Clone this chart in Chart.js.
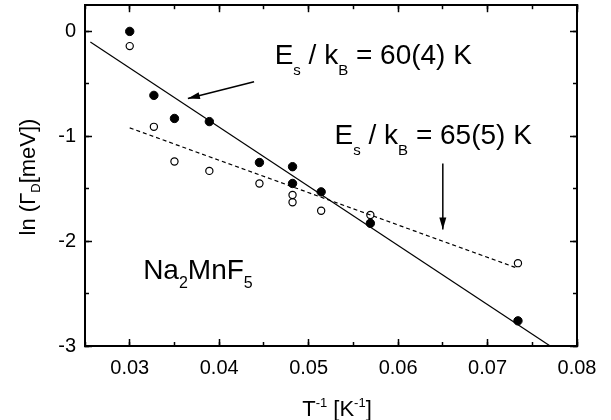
<!DOCTYPE html>
<html>
<head>
<meta charset="utf-8">
<script src="https://cdn.jsdelivr.net/npm/chart.js@4.4.1/dist/chart.umd.min.js"></script>
<style>
    html, body { margin: 0; padding: 0; background: #fff; }
    #wrap { width: 611px; height: 420px; }
</style>
</head>
<body>
<div id="wrap"><canvas id="chart" width="611" height="420"></canvas></div>
<script>
// ln(Gamma_D) vs 1/T, Na2MnF5

// filled circles
const filledX = [0.0300, 0.0327, 0.0350, 0.0389, 0.0445, 0.0482, 0.0482, 0.0514, 0.0569, 0.0734];
const filledY = [0.00, -0.61, -0.83, -0.86, -1.25, -1.29, -1.45, -1.53, -1.83, -2.76];

// open circles
const openX = [0.0300, 0.0327, 0.0350, 0.0389, 0.0445, 0.0482, 0.0482, 0.0514, 0.0569, 0.0734];
const openY = [-0.14, -0.91, -1.24, -1.33, -1.45, -1.56, -1.63, -1.71, -1.75, -2.21];

// fit lines
const solidFitX = [0.0256, 0.0770];
const solidFitY = [-0.10, -3.00];
const dashFitX = [0.0300, 0.0734];
const dashFitY = [-0.92, -2.26];

// arrows (tail -> head)
const arrow1X = [0.0439, 0.0365];
const arrow1Y = [-0.48, -0.64];
const arrow2X = [0.0650, 0.0650];
const arrow2Y = [-1.26, -1.89];

// axes
const xMin = 0.025, xMax = 0.08, xStep = 0.01, xMinorStep = 0.005;
const yMin = -3, yMax = 0.25, yStep = 1, yMinorStep = 0.5;

const FONT = '"Liberation Sans", Arial, Helvetica, sans-serif';

const pts = (xs, ys) => xs.map((x, i) => ({ x, y: ys[i] }));

// text with sub/superscripts
function richText(ctx, parts, x, y, size, smallSize, drop, rise) {
    let cx = x;
    parts.forEach((p) => {
        const s = p.sub || p.sup ? smallSize : size;
        ctx.font = s + 'px ' + FONT;
        const dy = p.sub ? drop : p.sup ? -rise : 0;
        ctx.fillText(p.t, cx, y + dy);
        cx += ctx.measureText(p.t).width;
    });
    return cx - x;
}
function richWidth(ctx, parts, size, smallSize) {
    let w = 0;
    parts.forEach((p) => {
        ctx.font = (p.sub || p.sup ? smallSize : size) + 'px ' + FONT;
        w += ctx.measureText(p.t).width;
    });
    return w;
}

const labelsPlugin = {
    id: 'labels',
    afterDatasetsDraw(chart) {
        const ctx = chart.ctx;
        const sx = chart.scales.x, sy = chart.scales.y;

        // arrowheads
        chart.data.datasets.forEach((ds, i) => {
            if (!ds.arrow) return;
            const d = chart.getDatasetMeta(i).data;
            const a = d[0], b = d[1];
            const ang = Math.atan2(b.y - a.y, b.x - a.x);
            const len = 12, hw = 3.5;
            ctx.save();
            ctx.fillStyle = '#000';
            ctx.beginPath();
            ctx.moveTo(b.x, b.y);
            ctx.lineTo(b.x - len * Math.cos(ang) - hw * Math.sin(ang), b.y - len * Math.sin(ang) + hw * Math.cos(ang));
            ctx.lineTo(b.x - len * Math.cos(ang) + hw * Math.sin(ang), b.y - len * Math.sin(ang) - hw * Math.cos(ang));
            ctx.closePath();
            ctx.fill();
            ctx.restore();
        });

        ctx.save();
        ctx.fillStyle = '#000';
        ctx.textBaseline = 'alphabetic';
        ctx.textAlign = 'left';

        richText(ctx, [{ t: 'E' }, { t: 's', sub: true }, { t: ' / k' }, { t: 'B', sub: true }, { t: ' = 60(4) K' }],
            sx.getPixelForValue(0.0462), sy.getPixelForValue(-0.315), 28, 15, 11, 0);
        richText(ctx, [{ t: 'E' }, { t: 's', sub: true }, { t: ' / k' }, { t: 'B', sub: true }, { t: ' = 65(5) K' }],
            sx.getPixelForValue(0.0529), sy.getPixelForValue(-1.07), 28, 15, 11, 0);
        richText(ctx, [{ t: 'Na' }, { t: '2', sub: true }, { t: 'Mn' }, { t: 'F' }, { t: '5', sub: true }],
            sx.getPixelForValue(0.0315), sy.getPixelForValue(-2.36), 28, 16, 9, 0);

        // axis titles
        const xt = [{ t: 'T' }, { t: '-1', sup: true }, { t: ' [K' }, { t: '-1', sup: true }, { t: ']' }];
        const xw = richWidth(ctx, xt, 22, 13);
        richText(ctx, xt, (chart.chartArea.left + chart.chartArea.right) / 2 - xw / 2 + 6, 416, 22, 13, 0, 9);

        const yt = [{ t: 'ln (Γ' }, { t: 'D', sub: true }, { t: '[meV])' }];
        const yw = richWidth(ctx, yt, 22, 13);
        ctx.translate(35, 177);
        ctx.rotate(-Math.PI / 2);
        richText(ctx, yt, -yw / 2, 0, 22, 13, 5, 0);
        ctx.restore();
    },
};

// axis helper: ticks pointing into the plot
function tickAxis(position, min, max, step, len, opts) {
    const major = opts.major;
    const size = opts.size;
    return {
        type: 'linear',
        position,
        min,
        max,
        weight: major ? 1 : 0,
        afterFit: (s) => {
            if (position === 'left' || position === 'right') s.width = size;
            else s.height = size;
            // no extra room for overhanging labels
            s.paddingTop = 0;
            s.paddingBottom = 0;
            s.paddingLeft = 0;
            s.paddingRight = 0;
        },
        ticks: Object.assign({
            display: false,
            stepSize: step,
            includeBounds: false,
            autoSkip: false,
            maxRotation: 0,
            color: '#000',
            font: { family: FONT, size: 20 },
        }, opts.ticks || {}),
        grid: {
            drawOnChartArea: false,
            drawTicks: true,
            tickLength: -len,
            tickWidth: 1.5,
            tickColor: '#000',
        },
        border: { display: major, color: '#000', width: 2 },
    };
}

new Chart(document.getElementById('chart'), {
    type: 'scatter',
    data: {
        datasets: [
            {
                data: pts(solidFitX, solidFitY),
                showLine: true,
                borderColor: '#000',
                borderWidth: 1.2,
                pointRadius: 0,
            },
            {
                data: pts(dashFitX, dashFitY),
                showLine: true,
                borderColor: '#000',
                borderWidth: 1.2,
                borderDash: [4, 3],
                pointRadius: 0,
            },
            {
                data: pts(arrow1X, arrow1Y),
                showLine: true,
                arrow: true,
                borderColor: '#000',
                borderWidth: 1.5,
                pointRadius: 0,
            },
            {
                data: pts(arrow2X, arrow2Y),
                showLine: true,
                arrow: true,
                borderColor: '#000',
                borderWidth: 1.5,
                pointRadius: 0,
            },
            {
                data: pts(openX, openY),
                pointRadius: 3.6,
                pointBorderWidth: 1.2,
                pointBorderColor: '#000',
                pointBackgroundColor: 'rgba(255,255,255,0)',
            },
            {
                data: pts(filledX, filledY),
                pointRadius: 4.2,
                pointBorderWidth: 1,
                pointBorderColor: '#000',
                pointBackgroundColor: '#000',
            },
        ],
    },
    options: {
        responsive: false,
        devicePixelRatio: 1,
        animation: false,
        layout: { padding: { top: 5, right: 34, left: 0, bottom: 0 } },
        plugins: { legend: { display: false }, tooltip: { enabled: false } },
        scales: {
            x: tickAxis('bottom', xMin, xMax, xStep, 7, {
                major: true, size: 74,
                ticks: { display: true, padding: 17, callback: (v) => v.toFixed(2) },
            }),
            xMinor: tickAxis('bottom', xMin, xMax, xMinorStep, 4, { major: false, size: 0 }),
            xTop: tickAxis('top', xMin, xMax, xStep, 7, { major: true, size: 0 }),
            xTopMinor: tickAxis('top', xMin, xMax, xMinorStep, 4, { major: false, size: 0 }),
            y: tickAxis('left', yMin, yMax, yStep, 7, {
                major: true, size: 85,
                ticks: { display: true, padding: 16, callback: (v) => String(v) },
            }),
            yMinor: tickAxis('left', yMin, yMax, yMinorStep, 4, { major: false, size: 0 }),
            yRight: tickAxis('right', yMin, yMax, yStep, 7, { major: true, size: 0 }),
            yRightMinor: tickAxis('right', yMin, yMax, yMinorStep, 4, { major: false, size: 0 }),
        },
    },
    plugins: [labelsPlugin],
});
</script>
</body>
</html>
